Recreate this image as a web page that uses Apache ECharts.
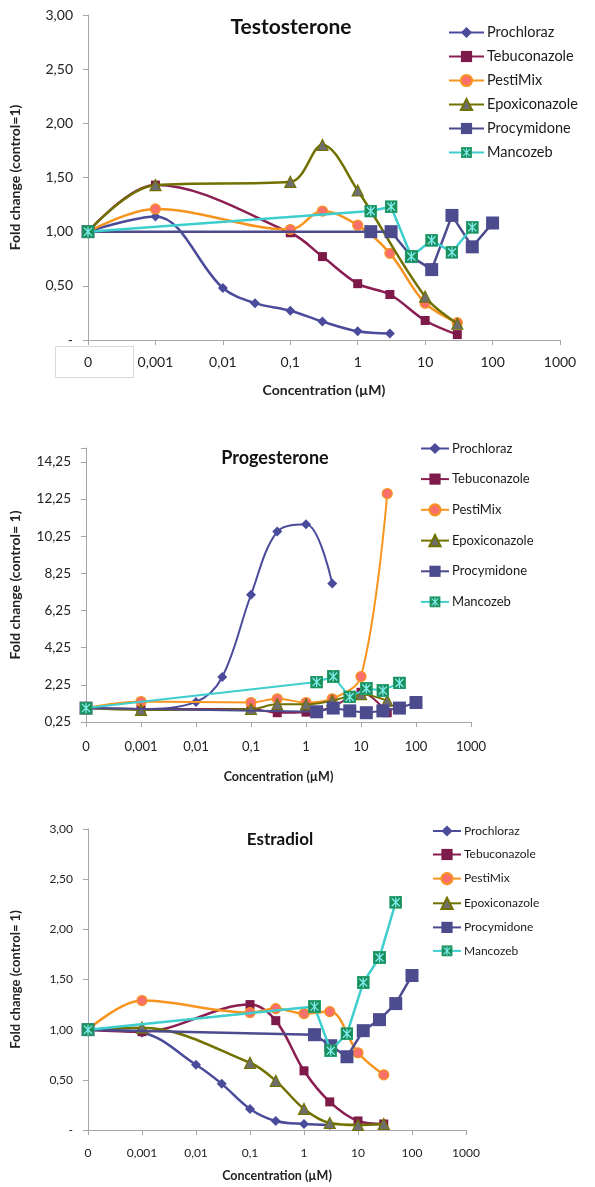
<!DOCTYPE html>
<html>
<head>
<meta charset="utf-8">
<script src="https://cdn.jsdelivr.net/npm/echarts@6/dist/echarts.min.js"></script>
<style>
html,body{margin:0;padding:0;background:#fff;}
#chart{width:595px;height:1187px;}
</style>
</head>
<body>
<div id="chart"></div>
<script>
// ---- tick labels & names ----
const xTickLabels = ['0', '0,001', '0,01', '0,1', '1', '10', '100', '1000'];
const seriesNames = ['Prochloraz', 'Tebuconazole', 'PestiMix', 'Epoxiconazole', 'Procymidone', 'Mancozeb'];
const chartTitles = ['Testosterone', 'Progesterone', 'Estradiol'];

// ---- concentrations (µM) ----
const concProchloraz = [0, 0.001, 0.01, 0.03, 0.1, 0.3, 1, 3];
const concAzole = [0, 0.001, 0.1, 0.3, 1, 3, 10, 30];
const concProcymidone = [0, 1.5625, 3.125, 6.25, 12.5, 25, 50, 100];
const concMancozeb = [0, 1.5625, 3.125, 6.25, 12.5, 25, 50];

// ---- Testosterone fold change ----
const testoProchloraz = [1.00, 1.14, 0.48, 0.34, 0.27, 0.17, 0.08, 0.06];
const testoTebuconazole = [1.00, 1.43, 0.99, 0.77, 0.52, 0.42, 0.18, 0.05];
const testoPestiMix = [1.00, 1.21, 1.02, 1.19, 1.06, 0.80, 0.34, 0.16];
const testoEpoxiconazole = [1.00, 1.43, 1.46, 1.80, 1.38, null, 0.40, 0.15];
const testoProcymidone = [1.00, 1.00, 1.00, 0.77, 0.65, 1.15, 0.86, 1.08];
const testoMancozeb = [1.00, 1.19, 1.23, 0.77, 0.92, 0.81, 1.04];

// ---- Progesterone fold change ----
const progProchloraz = [1.00, 0.95, 1.33, 2.67, 7.10, 10.50, 10.90, 7.70];
const progTebuconazole = [1.00, 0.95, 0.95, 0.75, 0.78, 1.05, 1.85, 0.75];
const progPestiMix = [1.00, 1.35, 1.30, 1.50, 1.30, 1.50, 2.70, 12.55];
const progEpoxiconazole = [1.00, 0.90, 0.95, 1.20, 1.20, 1.40, 1.75, 1.40];
const progProcymidone = [1.00, 0.80, 1.00, 0.85, 0.75, 0.85, 1.00, 1.30];
const progMancozeb = [1.00, 2.40, 2.70, 1.60, 2.05, 1.95, 2.35];

// ---- Estradiol fold change ----
const estrProchloraz = [1.00, 0.97, 0.65, 0.46, 0.21, 0.09, 0.06, 0.05];
const estrTebuconazole = [1.00, 0.98, 1.25, 1.09, 0.59, 0.28, 0.09, 0.06];
const estrPestiMix = [1.00, 1.29, 1.17, 1.21, 1.16, 1.18, 0.77, 0.55];
const estrEpoxiconazole = [1.00, 1.02, 0.67, 0.49, 0.21, 0.07, 0.05, 0.06];
const estrProcymidone = [1.00, 0.95, 0.84, 0.73, 0.99, 1.10, 1.26, 1.54];
const estrMancozeb = [1.00, 1.23, 0.79, 0.96, 1.47, 1.72, 2.27];

const chartData = [
  [testoProchloraz, testoTebuconazole, testoPestiMix, testoEpoxiconazole, testoProcymidone, testoMancozeb],
  [progProchloraz, progTebuconazole, progPestiMix, progEpoxiconazole, progProcymidone, progMancozeb],
  [estrProchloraz, estrTebuconazole, estrPestiMix, estrEpoxiconazole, estrProcymidone, estrMancozeb]
];
const concBySeries = [concProchloraz, concAzole, concAzole, concAzole, concProcymidone, concMancozeb];

// axis position: 0 at origin, then one unit per decade starting at 0,001
function axisPos(c) { return c === 0 ? 0 : Math.log10(c) + 4; }

const mancozebSvg = "<svg xmlns='http://www.w3.org/2000/svg' width='26' height='26'><rect x='1' y='1' width='24' height='24' fill='#1C8C5B' stroke='#24A06C' stroke-width='2'/><path d='M5 5L21 21M21 5L5 21M13 3V23' stroke='#7EEDED' stroke-width='2.6' fill='none'/></svg>";
const mancozebSymbol = 'image://data:image/svg+xml;charset=utf-8,' + encodeURIComponent(mancozebSvg);

const styles = [
  {line: '#4B4B9B', fill: '#4B4B9B', symbol: 'diamond', size: 10, smooth: 0.35},
  {line: '#8A1E52', fill: '#7E1A4A', symbol: 'rect', size: 9, smooth: 0.35},
  {line: '#F7941D', fill: '#F9706A', symbol: 'circle', size: 10, smooth: 0.35},
  {line: '#717100', fill: '#6E6E6E', symbol: 'triangle', size: 11, smooth: 0.35},
  {line: '#4B4B8E', fill: '#4B4B8E', symbol: 'rect', size: 13, smooth: false},
  {line: '#3ECECE', fill: '#1F8E5E', symbol: mancozebSymbol, size: 13, smooth: false}
];

const FONT = 'Lato';
const axisGray = '#A6A6A6';
const textDark = '#222222';

const grids = [
  {left: 88, top: 15, width: 472, height: 325},
  {left: 86, top: 448, width: 385, height: 274},
  {left: 88, top: 829, width: 378, height: 301}
];

const fmtComma = v => v.toFixed(2).replace('.', ',');

const yAxes = [
  {min: 0, max: 3, interval: 0.5, name: 'Fold change (control=1)', fmt: v => v === 0 ? '-' : fmtComma(v), fs: 14, nameFs: 14, nameGap: 66},
  {min: 0.25, max: 15, interval: 2, name: 'Fold change (control= 1)', fmt: v => (Math.abs(v - 15) < 1e-6 ? '' : fmtComma(v)), fs: 13.5, nameFs: 14, nameGap: 64},
  {min: 0, max: 3, interval: 0.5, name: 'Fold change (control= 1)', fmt: v => v === 0 ? '-' : fmtComma(v), fs: 12, nameFs: 13, nameGap: 66}
];
const xAxisCfg = [
  {fs: 14, margin: 15, nameGap: 43, nameFs: 14},
  {fs: 13, margin: 18, nameGap: 48, nameFs: 12.5},
  {fs: 12, margin: 17, nameGap: 39, nameFs: 12.5}
];

const legends = [
  {left: 448, top: 25, itemWidth: 35, itemGap: 9, fs: 14.5},
  {left: 420, top: 442, itemWidth: 28, itemGap: 17.6, fs: 13},
  {left: 432, top: 825, itemWidth: 28, itemGap: 11.5, fs: 12}
];

const titlePos = [[291, 27, 21], [275, 458, 18], [280, 840, 17]];

const option = {
  animation: false,
  backgroundColor: '#ffffff',
  textStyle: {fontFamily: FONT},
  grid: grids.map(g => Object.assign({containLabel: false}, g)),
  xAxis: grids.map((g, i) => ({
    type: 'value', gridIndex: i, min: 0, max: 7, interval: 1,
    name: 'Concentration (µM)', nameLocation: 'middle', nameGap: xAxisCfg[i].nameGap,
    nameTextStyle: {fontFamily: FONT, fontWeight: 'bold', fontSize: xAxisCfg[i].nameFs, color: textDark},
    axisLine: {show: true, lineStyle: {color: axisGray, width: 1}},
    axisTick: {show: true, length: 5, lineStyle: {color: axisGray}},
    splitLine: {show: false},
    axisLabel: {
      margin: xAxisCfg[i].margin, fontFamily: FONT, fontSize: xAxisCfg[i].fs, color: textDark,
      formatter: v => xTickLabels[Math.round(v)] || ''
    }
  })),
  yAxis: grids.map((g, i) => ({
    type: 'value', gridIndex: i, min: yAxes[i].min, max: yAxes[i].max, interval: yAxes[i].interval,
    name: yAxes[i].name, nameLocation: 'middle', nameGap: yAxes[i].nameGap, nameRotate: 90,
    nameTextStyle: {fontFamily: FONT, fontWeight: 'bold', fontSize: yAxes[i].nameFs, color: textDark},
    axisLine: {show: true, lineStyle: {color: axisGray, width: 1}},
    axisTick: {show: true, length: 5, lineStyle: {color: axisGray}},
    splitLine: {show: false},
    axisLabel: {margin: 15, fontFamily: FONT, fontSize: yAxes[i].fs, color: textDark, formatter: yAxes[i].fmt}
  })),
  legend: legends.map((l, i) => ({
    orient: 'vertical', left: l.left, top: l.top, itemWidth: l.itemWidth, itemHeight: 14, itemGap: l.itemGap,
    padding: 0, selectedMode: false,
    textStyle: {fontFamily: FONT, fontSize: l.fs, color: '#1a1a1a', padding: [0, 0, 0, -2]},
    data: seriesNames.map(n => ({name: n}))
  })),
  graphic: [
    ...titlePos.map((t, i) => ({
      type: 'text', x: t[0], y: t[1],
      style: {text: chartTitles[i], fontFamily: FONT, fontWeight: 'bold', fontSize: t[2], fill: '#111', textAlign: 'center', textVerticalAlign: 'middle'}
    })),
    {type: 'rect', shape: {x: 55.5, y: 346.5, width: 78, height: 31}, style: {fill: 'none', stroke: '#D9D9D9', lineWidth: 1}}
  ],
  series: []
};

chartData.forEach((sets, ci) => {
  sets.forEach((vals, si) => {
    const st = styles[si];
    option.series.push({
      name: seriesNames[si],
      type: 'line',
      xAxisIndex: ci, yAxisIndex: ci,
      data: concBySeries[si].map((c, k) => [axisPos(c), vals[k]]),
      smooth: st.smooth,
      connectNulls: true,
      symbol: st.symbol,
      symbolSize: st.size,
      showAllSymbol: true,
      lineStyle: {color: st.line, width: ci === 1 ? 2 : 2.5},
      itemStyle: {color: st.fill, borderColor: st.line, borderWidth: (si === 2 || si === 3) ? 1.2 : 0},
      emphasis: {disabled: true},
      z: 2 + si
    });
  });
});

const chart = echarts.init(document.getElementById('chart'), null, {renderer: 'canvas'});
chart.setOption(option);
</script>
</body>
</html>
